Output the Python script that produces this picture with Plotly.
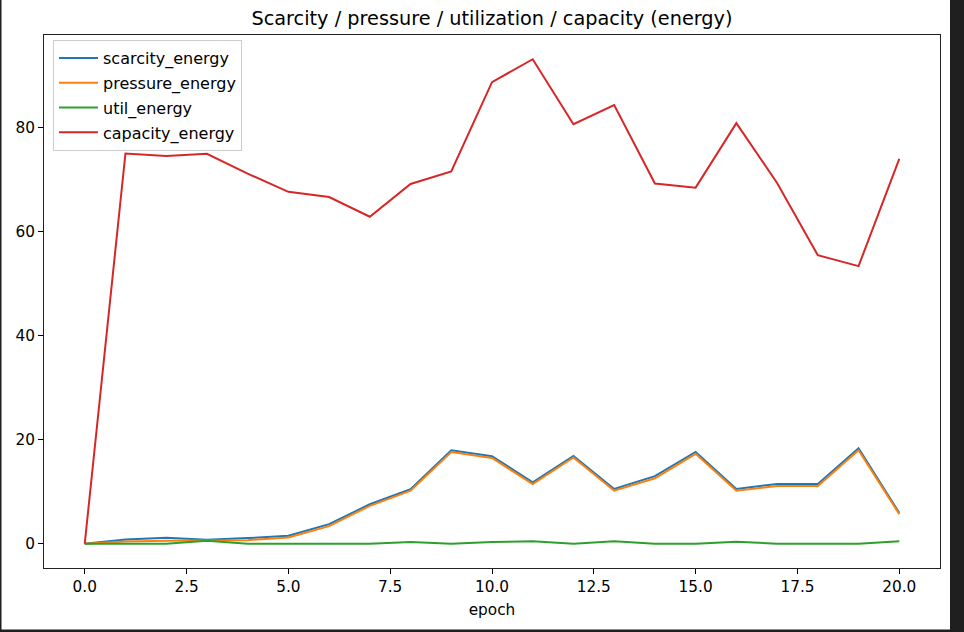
import plotly.graph_objects as go

epochs = list(range(21))
scarcity_energy = [0, 0.83, 1.15, 0.77, 1.09, 1.53, 3.77, 7.6, 10.5, 18.0, 16.85,
                   11.8, 16.9, 10.55, 13.0, 17.65, 10.55, 11.5, 11.5, 18.35, 5.95]
pressure_energy = [0, 0.45, 0.6, 0.6, 0.7, 1.2, 3.4, 7.3, 10.2, 17.65, 16.5,
                   11.5, 16.6, 10.2, 12.6, 17.3, 10.2, 11.1, 11.1, 18.0, 5.7]
util_energy = [0, 0, 0, 0.58, 0, 0, 0, 0, 0.32, 0, 0.32,
               0.5, 0, 0.5, 0, 0, 0.4, 0, 0, 0, 0.5]
capacity_energy = [0, 75.07, 74.6, 75.0, 71.2, 67.7, 66.7, 62.9, 69.2, 71.6, 88.8,
                   93.2, 80.7, 84.4, 69.3, 68.5, 80.9, 69.4, 55.5, 53.4, 74.05]

series_names = ["scarcity_energy", "pressure_energy", "util_energy", "capacity_energy"]
series_values = [scarcity_energy, pressure_energy, util_energy, capacity_energy]
colors = ["#1f77b4", "#ff7f0e", "#2ca02c", "#d62728"]

x_ticks = [0, 2.5, 5, 7.5, 10, 12.5, 15, 17.5, 20]
y_ticks = [0, 20, 40, 60, 80]

FONT = "DejaVu Sans"
FS = 15.3

fig = go.Figure()
for i, (name, vals, col) in enumerate(zip(series_names, series_values, colors)):
    fig.add_trace(go.Scatter(
        x=epochs, y=vals, mode="lines", name=name,
        line=dict(color=col, width=2),
        legendgroup=f"g{i}",
    ))

ymax = max(capacity_energy)
ymin = 0
span = ymax - ymin

L, R, T, B = 44, 24, 35, 64
W, H = 964, 632
pw, ph = W - L - R, H - T - B

def px(xp):
    return (xp - L) / pw

def py(yp):
    return (H - B - yp) / ph

fig.update_layout(
    width=W, height=H,
    margin=dict(l=L, r=R, t=T, b=B),
    paper_bgcolor="white",
    plot_bgcolor="white",
    font=dict(family=FONT, size=FS, color="black"),
    title=dict(
        text="Scarcity / pressure / utilization / capacity (energy)",
        x=0.5, xref="paper", xanchor="center",
        y=1 - 18 / H, yref="container", yanchor="middle",
        font=dict(family=FONT, size=19.3, color="black"),
    ),
    showlegend=True,
    legend=dict(
        x=px(53), y=py(40), xanchor="left", yanchor="top",
        bgcolor="rgba(255,255,255,0.8)",
        bordercolor="#cccccc", borderwidth=1,
        font=dict(family=FONT, size=16, color="black"),
        tracegroupgap=1,
        traceorder="grouped",
        itemwidth=39,
    ),
    xaxis=dict(
        range=[-1, 21],
        tickvals=x_ticks,
        tickformat=".1f",
        ticks="outside", ticklen=5, tickwidth=1, tickcolor="black",
        showline=True, linecolor="#222222", linewidth=1, mirror=True,
        showgrid=False, zeroline=False,
        title=dict(text="epoch", font=dict(family=FONT, size=FS), standoff=8),
        tickfont=dict(family=FONT, size=FS),
    ),
    yaxis=dict(
        range=[ymin - 0.05 * span, ymax + 0.05 * span],
        tickvals=y_ticks,
        ticks="outside", ticklen=5, tickwidth=1, tickcolor="black",
        showline=True, linecolor="#222222", linewidth=1, mirror=True,
        showgrid=False, zeroline=False,
        tickfont=dict(family=FONT, size=FS),
    ),
    shapes=[
        dict(type="rect", xref="paper", yref="paper",
             x0=px(950), x1=px(965), y0=py(633), y1=py(-1),
             fillcolor="#1f1f1f", line=dict(width=0), layer="above"),
        dict(type="rect", xref="paper", yref="paper",
             x0=px(-1), x1=px(965), y0=py(633), y1=py(629.5),
             fillcolor="#1f1f1f", line=dict(width=0), layer="above"),
        dict(type="rect", xref="paper", yref="paper",
             x0=px(-1), x1=px(1.5), y0=py(633), y1=py(-1),
             fillcolor="#1f1f1f", line=dict(width=0), layer="above"),
    ],
)

fig.write_html(
    "out.html",
    config={"displayModeBar": False},
    post_script="document.body.style.margin='0';document.body.style.overflow='hidden';",
)
